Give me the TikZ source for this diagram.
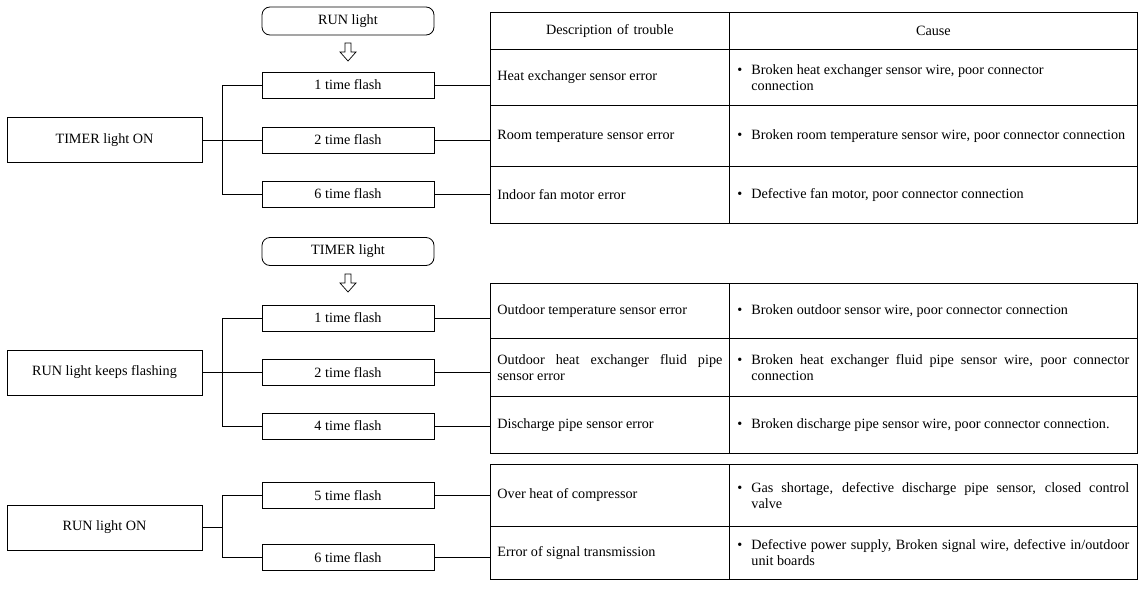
\documentclass[tikz,border=0pt]{standalone}
\usepackage{fontspec}
\setmainfont{Liberation Serif}

\newcommand\causeline[1]{\makebox[14pt][l]{\textbullet}\parbox[t]{378pt}{\spaceskip=0pt\xspaceskip=0pt\rightskip=0pt #1}}

\tikzset{
  lampbox/.style={draw, minimum width=195pt, minimum height=45pt, inner sep=0pt},
  flashbox/.style={draw, minimum width=172pt, minimum height=26pt, inner sep=0pt},
  headbox/.style={draw, rounded corners=8pt, minimum width=172pt, minimum height=28pt, inner sep=0pt},
  desccell/.style={draw, anchor=north west, text width=225pt, inner xsep=7pt, inner ysep=0pt, align=justify},
  causecell/.style={draw, anchor=north west, text width=392pt, inner xsep=8pt, inner ysep=0pt, align=justify},
  hollowarrow/.pic={\draw[line width=0.7pt] (-3,0) -- (3,0) -- (3,9) -- (8,9) -- (0,18) -- (-8,9) -- (-3,9) -- cycle;}
}

\begin{document}
\begin{tikzpicture}[x=1pt,y=-1pt,line width=0.8pt,font=\fontsize{14.2}{16}\selectfont]
  \useasboundingbox (0,0) rectangle (1139,589);
  % states shown on the unit
  \node[lampbox] (timeron) at (104.5,140) {TIMER light ON};
  \node[lampbox] (runflash) at (104.5,372.5) {RUN light keeps flashing};
  \node[lampbox] (runon) at (104.5,527.5) {RUN light ON};

  \node[headbox] (runhead) at (348,21) {RUN light};
  \node[headbox] (timerhead) at (348,251.5) {TIMER light};
  \pic at (348,43) {hollowarrow};
  \pic at (348,274) {hollowarrow};

  \foreach \name/\y/\n in {fa1/85/1,fa2/140/2,fa3/194/6,fb1/318/1,fb2/372.5/2,fb3/426/4,fc1/495.5/5,fc2/557.5/6}
    \node[flashbox] (\name) at (348,\y) {\n\ time flash};

  % table 1
  \node[desccell, align=center, minimum height=37pt] (hdesc) at (490,12) {Description of trouble};
  \node[causecell, align=center, minimum height=37pt] (hcause) at (729,12) {Cause};
  \node[desccell, minimum height=56pt] (da1) at (490,49) {Heat exchanger sensor error};
  \node[causecell, minimum height=56pt] (ca1) at (729,49) {\causeline{Broken heat exchanger sensor wire, poor connector\\ connection}};
  \node[desccell, minimum height=61pt] (da2) at (490,105) {Room temperature sensor error};
  \node[causecell, minimum height=61pt] (ca2) at (729,105) {\causeline{Broken room temperature sensor wire, poor connector connection}};
  \node[desccell, minimum height=57pt] (da3) at (490,166) {Indoor fan motor error};
  \node[causecell, minimum height=57pt] (ca3) at (729,166) {\causeline{Defective fan motor, poor connector connection}};

  % table 2
  \node[desccell, minimum height=55pt] (db1) at (490,283) {Outdoor temperature sensor error};
  \node[causecell, minimum height=55pt] (cb1) at (729,283) {\causeline{Broken outdoor sensor wire, poor connector connection}};
  \node[desccell, minimum height=58pt] (db2) at (490,338) {Outdoor heat exchanger fluid pipe\linebreak sensor error};
  \node[causecell, minimum height=58pt] (cb2) at (729,338) {\causeline{Broken heat exchanger fluid pipe sensor wire, poor connector\linebreak connection}};
  \node[desccell, minimum height=57pt] (db3) at (490,396) {Discharge pipe sensor error};
  \node[causecell, minimum height=57pt] (cb3) at (729,396) {\causeline{Broken discharge pipe sensor wire, poor connector connection.}};

  % table 3
  \node[desccell, minimum height=62pt] (dc1) at (490,464) {Over heat of compressor};
  \node[causecell, minimum height=62pt] (cc1) at (729,464) {\causeline{Gas shortage, defective discharge pipe sensor, closed control\linebreak valve}};
  \node[desccell, minimum height=53pt] (dc2) at (490,526) {Error of signal transmission};
  \node[causecell, minimum height=53pt] (cc2) at (729,526) {\causeline{Defective power supply, Broken signal wire, defective in/outdoor\linebreak unit boards}};

  % branch lines
  \coordinate (bus) at (222,0);
  \draw (fa1.west) -- (fa1.west -| bus) |- (fa3.west);
  \draw (timeron) -- (fa2);
  \draw (fb1.west) -- (fb1.west -| bus) |- (fb3.west);
  \draw (runflash) -- (fb2);
  \draw (fc1.west) -- (fc1.west -| bus) |- (fc2.west);
  \draw (runon) -- (runon -| bus);

  \foreach \f/\d in {fa1/da1,fa2/da2,fa3/da3,fb1/db1,fb2/db2,fb3/db3,fc1/dc1,fc2/dc2}
    \draw (\f) -- (\d.west |- \f);
\end{tikzpicture}
\end{document}
